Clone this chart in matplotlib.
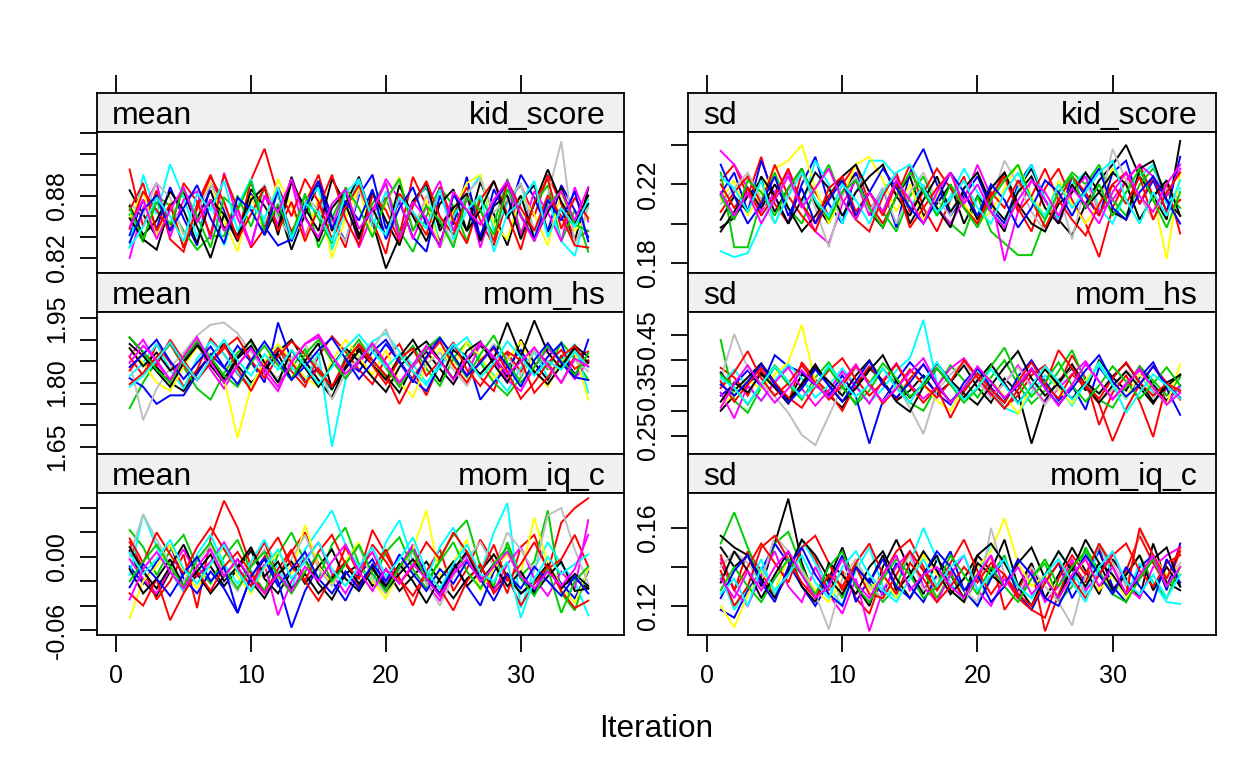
import matplotlib
matplotlib.use("Agg")
import matplotlib.pyplot as plt

# ---------------- data (values read/estimated from the picture) ----------------
iterations = list(range(1, 36))
chain_colors = ["#000000", "#FF0000", "#00CD00", "#0000FF", "#00FFFF", "#FF00FF",
                "#FFFF00", "#BEBEBE", "#000000", "#FF0000", "#000000", "#FF0000",
                "#00CD00", "#0000FF", "#00FFFF", "#FF00FF"]

# mean of kid_score (x 0.001)
kid_mean = [
 [885,862,840,872,830,858,885,848,868,895,842,870,828,862,890,846,872,898,855,810,840,875,888,850,870,846,893,862,832,875,890,845,868,836,887],
 [905,850,885,838,826,872,900,866,840,895,925,880,845,872,900,856,830,884,862,878,842,898,870,836,862,888,856,832,876,890,860,900,872,838,846],
 [862,835,880,870,846,828,841,841,880,850,888,862,838,882,830,858,886,840,872,892,846,826,860,888,870,836,880,852,896,844,872,890,836,866,826],
 [842,876,848,888,858,832,892,866,840,882,850,832,838,870,894,860,836,880,900,848,874,840,826,880,852,898,838,886,860,900,878,846,890,866,840],
 [830,900,862,910,878,840,875,832,870,896,852,882,836,872,888,828,866,894,850,884,838,870,890,830,860,880,900,846,872,892,840,878,836,822,870],
 [820,868,892,840,876,884,838,902,858,832,880,852,894,840,874,850,886,830,862,896,876,838,870,894,846,880,830,872,892,842,884,864,836,888,855],
 [858,884,840,872,832,868,892,856,826,880,846,896,870,836,878,820,858,888,840,872,898,846,876,830,866,892,900,852,838,880,862,832,884,846,860],
 [872,862,892,878,842,866,890,870,836,876,890,858,840,880,866,854,836,884,862,874,894,846,880,858,834,882,896,864,876,892,846,880,932,832,868],
 [858,838,828,870,884,850,820,862,836,876,888,842,894,868,846,896,872,838,884,856,832,874,892,846,868,882,836,870,880,838,872,905,874,852,880],
 [848,884,866,846,892,874,842,900,868,830,848,888,860,896,874,838,868,890,856,824,882,864,842,888,856,834,876,894,862,828,874,896,848,878,858],
 [870,842,856,884,866,834,876,862,840,886,870,848,898,860,836,868,884,842,868,840,890,860,836,872,886,846,866,894,858,880,838,864,888,852,872],
 [866,892,846,872,830,868,898,874,838,862,888,846,874,836,868,900,858,832,880,866,836,870,894,860,842,878,866,836,894,868,846,880,860,832,830],
 [868,838,874,852,886,860,830,878,866,894,846,872,842,880,858,834,888,868,840,876,896,846,870,856,830,878,866,842,886,862,836,872,884,852,846],
 [835,866,880,846,868,890,858,834,878,866,842,886,836,868,894,848,874,856,886,838,868,888,852,832,880,866,842,872,894,860,838,876,856,884,836],
 [830,850,878,860,836,882,866,894,846,870,858,888,838,872,864,836,882,896,856,842,878,864,848,886,838,866,880,826,862,874,894,840,868,850,876],
 [850,876,838,866,888,854,876,846,866,832,880,864,896,858,840,872,886,848,866,892,838,874,858,830,884,866,852,876,894,860,836,868,884,856,888],
]

# mean of mom_hs (x 0.001)
hs_mean = [
 [1905,1870,1836,1800,1780,1826,1864,1890,1840,1800,1826,1872,1900,1850,1806,1765,1838,1880,1852,1816,1776,1840,1872,1832,1796,1850,1886,1856,1812,1900,1846,1806,1862,1820,1850],
 [1860,1816,1890,1846,1790,1830,1902,1866,1820,1786,1846,1882,1826,1790,1862,1908,1872,1830,1796,1858,1890,1826,1770,1846,1884,1860,1812,1780,1868,1826,1878,1846,1798,1862,1872],
 [1740,1800,1850,1890,1836,1786,1760,1822,1870,1896,1846,1800,1834,1878,1822,1782,1860,1900,1852,1810,1850,1886,1832,1792,1856,1894,1846,1800,1770,1812,1874,1830,1894,1856,1806],
 [1810,1790,1750,1770,1770,1820,1866,1834,1886,1848,1800,1940,1852,1806,1836,1784,1852,1826,1872,1900,1850,1806,1780,1842,1886,1860,1760,1800,1836,1876,1822,1860,1892,1808,1900],
 [1815,1846,1890,1830,1786,1856,1896,1866,1822,1792,1850,1886,1836,1800,1870,1650,1806,1858,1896,1915,1872,1842,1800,1836,1880,1906,1852,1818,1780,1834,1872,1812,1850,1890,1776],
 [1862,1900,1846,1806,1856,1892,1830,1786,1840,1880,1820,1780,1850,1890,1906,1856,1810,1846,1884,1838,1796,1836,1876,1904,1860,1818,1890,1852,1806,1780,1836,1880,1848,1808,1850],
 [1880,1846,1800,1780,1836,1884,1852,1808,1670,1790,1850,1890,1852,1812,1790,1850,1900,1860,1818,1876,1800,1766,1840,1880,1838,1894,1862,1810,1852,1896,1830,1790,1848,1872,1760],
 [1850,1712,1786,1834,1870,1910,1935,1940,1915,1870,1832,1810,1856,1890,1836,1760,1822,1856,1880,1925,1846,1802,1842,1870,1830,1792,1850,1890,1860,1816,1876,1836,1800,1852,1826],
 [1890,1862,1826,1790,1846,1886,1852,1808,1860,1900,1846,1800,1876,1834,1790,1840,1880,1850,1812,1778,1836,1872,1896,1852,1808,1874,1896,1842,1800,1860,1945,1870,1832,1886,1860],
 [1828,1870,1840,1900,1852,1806,1846,1888,1832,1780,1840,1880,1848,1800,1832,1790,1850,1890,1852,1816,1750,1812,1856,1896,1840,1800,1852,1880,1826,1762,1800,1846,1876,1832,1852],
 [1880,1838,1870,1828,1852,1896,1840,1800,1856,1886,1832,1866,1808,1850,1892,1786,1832,1874,1842,1806,1860,1900,1848,1802,1876,1850,1820,1856,1940,1862,1826,1796,1840,1880,1846],
 [1796,1822,1860,1892,1840,1806,1846,1880,1905,1852,1810,1860,1896,1866,1826,1790,1850,1888,1840,1796,1856,1880,1816,1850,1894,1830,1792,1840,1872,1852,1776,1812,1860,1886,1836],
 [1905,1872,1830,1800,1856,1896,1860,1816,1790,1846,1886,1840,1806,1866,1900,1850,1810,1852,1890,1834,1790,1840,1880,1906,1856,1812,1866,1910,1846,1800,1836,1886,1850,1818,1868],
 [1836,1866,1900,1850,1808,1846,1884,1836,1796,1852,1896,1850,1806,1838,1876,1904,1856,1808,1846,1890,1848,1800,1860,1904,1862,1816,1846,1884,1838,1790,1852,1892,1846,1812,1806],
 [1790,1816,1852,1894,1846,1806,1856,1900,1852,1816,1866,1830,1876,1840,1796,1836,1880,1912,1872,1836,1866,1826,1794,1848,1890,1856,1812,1846,1896,1860,1816,1850,1830,1872,1836],
 [1846,1886,1852,1806,1862,1906,1848,1800,1840,1880,1832,1790,1846,1890,1912,1862,1820,1850,1892,1846,1800,1842,1886,1850,1806,1856,1894,1860,1820,1848,1882,1840,1800,1856,1838],
]

# mean of mom_iq_c (x 0.001)
iq_mean = [
 [5,-20,-32,-12,-28,-15,-8,-24,-10,5,-18,-30,-12,-2,-22,-35,-14,-6,-24,-10,-28,-16,-4,-20,-34,-18,-8,-26,-14,-30,-22,-10,-24,-18,-26],
 [12,-10,-35,-20,2,-42,15,46,24,-8,12,-16,4,20,-6,-22,8,-14,22,2,-18,-40,-12,6,-28,-10,14,-4,-30,8,18,-12,28,40,48],
 [22,8,-15,5,18,-8,-22,0,14,-12,-28,2,20,-4,-18,10,24,-6,-20,4,16,-10,-26,0,18,30,-8,-24,12,-16,-4,38,-30,-44,-10],
 [-8,-22,-4,10,-18,-30,-12,-26,-46,-16,0,-20,-58,-28,-8,-20,-36,-14,-2,-24,-10,8,-16,-30,-6,-24,-40,-12,4,-18,-28,-8,-22,-34,-12],
 [-15,35,8,-12,-28,2,18,-6,-22,-4,14,-10,-26,6,22,38,10,-8,-20,12,30,-4,-18,8,24,-2,-14,20,44,-42,-10,12,-6,-20,-48],
 [-2,-18,-30,-10,6,-16,-4,12,-8,-24,-6,-48,-20,-2,12,-14,-30,-10,4,-20,-8,10,-22,-36,-12,2,-16,-28,-6,8,-18,-32,-12,-26,30],
 [-50,-20,-8,10,-12,-26,-6,8,-16,-30,-10,4,-14,26,-8,-22,-4,12,-20,-34,-12,6,38,-16,-4,14,-28,-10,2,-14,32,-6,-24,-38,-10],
 [0,35,14,-6,-20,-4,10,-14,-28,-8,6,-16,-2,18,-10,-24,-6,8,-18,-30,-12,4,-22,-40,-16,-2,12,-8,20,6,-12,34,40,6,-22],
 [8,-12,-26,-8,10,-14,-30,-16,-2,-20,-34,-14,-4,-22,-8,6,-18,-28,-10,-24,-6,-20,-38,-18,-4,-24,-12,2,-16,-30,-20,-6,-26,-14,-24],
 [-30,-40,-18,-52,-30,-12,-28,-8,4,-14,-30,-10,6,-20,-36,-16,-4,-24,-10,6,-18,-32,-12,-26,-44,-20,-6,-30,-16,-40,-22,-8,-28,-42,-36],
 [-10,-30,-18,-2,-24,-12,2,-20,-8,8,-16,-4,-26,-14,-30,-18,-6,-22,-8,-28,-14,-2,-18,-32,-10,4,-20,-6,-24,-12,-30,-16,-4,-28,-26],
 [15,-5,20,2,-14,8,24,6,-10,-24,0,16,-8,-20,4,18,-6,-18,10,-4,-22,-8,12,-2,20,4,-14,10,-20,-6,12,-10,-2,18,-8],
 [-20,-4,10,-8,-24,-2,12,-10,-26,-8,4,-16,-30,-12,2,-20,-6,10,-14,-28,-8,6,-20,-4,12,-12,-26,-6,8,-18,-32,-10,-46,-20,-8],
 [-25,-6,-18,-32,-14,0,-20,-8,-46,-16,-2,-24,-10,4,-18,-30,-12,-26,-6,-20,2,-14,-28,-10,-22,-4,-18,-36,-14,-26,-8,-20,-32,-16,-30],
 [3,-14,-2,14,-10,-22,-6,10,-12,-28,-8,6,-18,-4,12,-10,-24,-8,8,-16,-2,16,-12,-26,-6,10,-14,-20,-4,-50,-18,0,-14,-6,2],
 [-35,-10,4,-12,-26,-8,6,-16,-2,-18,-30,-14,-28,-8,-20,-4,10,-12,-28,-10,-22,-6,-18,-32,-14,-2,-20,-8,4,-16,-26,-12,-24,-10,18],
]

# sd of kid_score (x 0.001)
kid_sd = [
 [198,203,214,222,206,218,228,210,200,216,226,206,198,214,224,204,210,220,200,214,206,196,218,228,212,202,194,210,222,230,240,224,214,202,242],
 [222,230,214,234,210,200,226,216,204,220,230,210,200,214,230,208,196,212,224,202,214,226,208,196,218,228,212,200,183,208,222,230,214,220,195],
 [226,188,188,212,226,208,200,218,230,212,202,216,206,196,214,224,208,200,194,214,196,190,184,184,202,216,226,220,230,212,204,220,228,216,208],
 [215,226,206,232,214,200,220,234,210,200,226,206,218,198,226,238,220,204,214,224,208,200,220,230,212,202,224,214,204,226,232,210,222,206,234],
 [186,183,185,200,214,226,208,232,220,200,216,232,232,224,208,220,204,214,228,216,206,198,218,230,212,202,220,226,208,200,216,224,230,210,218],
 [237,230,218,206,216,226,210,196,190,210,222,204,216,224,206,218,208,200,212,230,214,181,206,222,212,200,216,224,206,212,222,230,224,214,228],
 [212,222,204,216,228,232,240,218,200,214,230,234,222,206,220,202,214,226,210,200,206,218,230,214,204,222,210,200,210,228,220,202,214,182,226],
 [210,218,226,212,200,216,226,208,188,214,224,206,218,200,216,226,212,204,218,226,212,232,220,206,196,216,192,220,208,238,222,214,202,218,212],
 [196,206,218,208,220,208,196,204,214,224,230,216,206,222,200,212,224,206,216,202,218,226,210,200,196,210,216,226,216,206,202,228,232,212,204],
 [206,216,224,210,230,214,204,196,214,222,202,196,214,226,206,216,228,218,208,200,214,224,206,214,228,212,202,194,210,220,226,210,224,206,212],
 [202,214,206,224,214,200,212,226,218,204,216,224,230,214,204,218,208,198,218,226,210,202,216,224,208,200,220,208,216,226,220,202,214,222,204],
 [220,208,218,204,214,228,210,200,218,224,206,216,204,220,198,208,218,226,208,200,216,208,222,212,198,212,224,216,204,220,210,224,202,216,226],
 [214,202,222,216,204,218,228,212,202,216,222,208,198,214,226,216,204,220,208,198,212,222,230,212,202,216,224,208,220,204,216,228,212,198,216],
 [230,214,200,210,224,204,218,200,212,222,204,216,228,218,208,200,212,226,216,204,220,212,198,208,222,216,204,218,228,208,202,216,224,212,200],
 [224,218,206,222,200,214,226,212,204,220,212,200,216,226,230,218,206,212,222,208,200,216,226,212,204,220,208,216,226,232,212,200,216,204,222],
 [216,204,216,200,212,224,208,218,228,212,202,216,206,222,212,200,216,226,210,220,206,198,212,222,216,204,218,210,200,216,226,214,206,220,230],
]

# sd of mom_hs (x 0.001)
hs_sd = [
 [300,330,356,372,346,318,372,356,330,306,350,384,360,320,340,370,334,356,390,346,316,364,336,235,320,360,384,340,400,366,340,388,352,320,350],
 [385,366,330,380,346,316,396,362,336,300,352,388,356,322,364,392,350,316,342,382,344,306,330,370,390,350,410,364,272,336,370,318,248,354,336],
 [440,320,296,346,386,352,322,366,396,350,312,340,384,352,316,300,348,390,360,326,366,400,352,314,340,378,420,358,322,306,350,388,360,330,366],
 [330,352,380,348,410,388,376,350,330,370,328,235,320,360,396,366,334,312,356,386,346,316,368,400,358,320,350,302,386,352,326,366,396,344,292],
 [350,382,346,320,360,392,364,326,350,384,352,316,344,380,404,480,354,316,346,378,338,306,294,336,370,346,310,356,390,350,324,372,336,316,346],
 [336,285,350,320,356,386,344,310,340,378,348,314,360,394,352,324,348,384,404,366,330,354,390,350,316,344,372,398,358,322,354,384,342,316,350],
 [310,332,360,344,372,396,470,358,324,352,386,354,314,344,380,352,320,300,348,386,360,330,294,350,384,342,314,360,396,354,326,372,344,312,392],
 [362,452,384,354,328,296,252,232,290,348,384,352,318,350,306,254,340,372,396,358,324,356,386,346,312,348,390,354,318,342,380,356,326,354,340],
 [376,340,366,394,356,322,350,386,358,330,370,400,356,318,298,348,384,352,326,360,392,354,316,348,382,350,324,356,334,368,394,356,318,348,372],
 [358,318,352,386,356,326,306,348,380,404,362,330,356,392,348,316,346,286,338,374,342,316,358,396,352,324,372,346,314,240,304,352,388,356,322],
 [318,356,336,374,346,314,354,392,350,318,344,380,410,358,326,354,394,360,334,312,350,386,418,364,330,354,392,350,316,350,378,346,314,356,370],
 [345,376,418,364,330,354,390,356,322,350,388,356,314,344,382,352,326,358,400,366,334,304,342,380,352,420,384,350,324,364,396,356,330,354,340],
 [372,346,312,352,390,358,326,352,384,346,316,354,394,364,328,350,384,352,316,344,388,425,366,328,358,396,350,318,350,388,358,324,354,386,350],
 [352,330,358,392,352,316,344,382,350,318,358,398,352,326,356,392,350,318,346,384,358,324,350,384,346,312,344,380,410,358,328,352,388,350,326],
 [366,344,314,352,388,358,326,350,390,356,328,352,384,344,316,358,396,356,322,346,382,350,314,350,388,358,322,352,396,352,296,336,372,350,324],
 [306,354,390,350,316,344,380,352,326,358,392,350,318,344,376,404,354,316,346,388,356,326,352,384,344,310,352,392,358,324,352,380,346,312,336],
]

# sd of mom_iq_c (x 0.001)
iq_sd = [
 [150,140,146,130,152,175,142,124,134,150,130,120,140,154,138,126,144,136,124,146,138,154,130,142,124,136,150,138,126,144,134,124,152,132,128],
 [142,128,148,138,124,136,154,144,128,138,124,116,136,148,154,140,128,138,122,134,146,118,128,140,107,126,142,132,150,128,138,156,142,130,148],
 [152,168,150,134,152,158,140,126,136,124,142,132,122,130,148,138,124,136,128,120,136,146,124,134,142,122,130,150,138,126,136,146,132,124,140],
 [118,114,128,138,152,142,130,120,132,146,122,134,126,142,130,122,136,148,128,120,134,144,126,118,132,142,124,136,148,130,122,140,146,128,152],
 [136,118,130,144,126,136,154,142,130,120,138,150,130,124,142,160,144,132,122,136,152,142,130,124,136,148,138,126,152,136,124,142,132,122,121],
 [144,128,120,136,148,130,122,140,126,116,134,107,128,140,148,130,122,136,146,128,120,134,124,138,122,130,144,128,136,148,130,124,140,146,150],
 [120,109,126,138,128,144,138,128,122,134,144,128,136,124,134,146,136,128,122,140,148,165,142,130,136,124,134,144,128,136,124,134,146,136,140],
 [140,148,142,132,156,148,138,126,108,134,144,130,124,136,146,128,134,140,128,122,160,136,126,140,130,122,110,136,152,142,130,158,146,134,142],
 [156,150,146,134,124,138,154,146,134,126,140,132,146,128,136,148,138,126,134,146,152,142,130,120,136,148,138,154,142,128,136,146,128,140,130],
 [146,128,140,152,142,132,150,156,142,128,140,126,124,136,148,138,128,142,154,138,126,136,124,118,114,134,146,136,152,140,126,160,146,134,150],
 [132,148,138,124,136,148,130,122,142,136,126,140,148,134,124,136,146,128,122,142,136,130,142,150,134,124,140,130,142,136,126,134,144,150,130],
 [138,120,130,150,156,144,132,124,136,130,142,152,136,126,142,134,122,130,140,132,142,136,126,120,132,142,134,124,136,146,152,138,130,142,146],
 [128,140,130,122,134,144,136,126,140,148,130,122,134,144,136,124,130,146,136,126,140,130,122,134,144,130,140,148,136,126,122,134,144,130,136],
 [124,138,146,132,122,140,150,136,126,120,140,132,144,130,124,136,148,140,128,136,122,130,144,136,124,120,134,146,136,126,140,130,122,144,132],
 [126,134,120,140,128,136,146,132,124,140,148,136,128,122,134,144,130,140,146,128,136,144,130,124,136,144,132,122,140,148,132,126,136,124,136],
 [134,124,138,128,140,148,136,124,130,144,132,124,136,146,128,136,140,130,124,136,146,130,140,126,134,124,136,144,130,140,126,136,146,130,140],
]

x_ticks = [0, 10, 20, 30]
x_labels = ["0", "10", "20", "30"]

# panel: (column, row, stat, variable, data, scale, ylim, yticks, yticklabels)
panels = [
    (0, 0, "mean", "kid_score", kid_mean, 0.001, (0.8056, 0.941),
     [0.82, 0.84, 0.86, 0.88, 0.90, 0.92, 0.94], ["0.82", "", "", "0.88", "", "", ""]),
    (0, 1, "mean", "mom_hs", hs_mean, 0.001, (1.633, 1.9647),
     [1.65, 1.70, 1.75, 1.80, 1.85, 1.90, 1.95], ["1.65", "", "", "1.80", "", "", "1.95"]),
    (0, 2, "mean", "mom_iq_c", iq_mean, 0.001, (-0.0641, 0.0523),
     [-0.06, -0.04, -0.02, 0.0, 0.02, 0.04], ["-0.06", "", "", "0.00", "", ""]),
    (1, 0, "sd", "kid_score", kid_sd, 0.001, (0.1749, 0.2466),
     [0.18, 0.20, 0.22, 0.24], ["0.18", "", "0.22", ""]),
    (1, 1, "sd", "mom_hs", hs_sd, 0.001, (0.2144, 0.4955),
     [0.25, 0.30, 0.35, 0.40, 0.45], ["0.25", "", "0.35", "", "0.45"]),
    (1, 2, "sd", "mom_iq_c", iq_sd, 0.001, (0.1051, 0.1779),
     [0.12, 0.14, 0.16], ["0.12", "", "0.16"]),
]

# ---------------- figure ----------------
plt.rcParams["font.family"] = ["Liberation Sans", "DejaVu Sans"]
W, H = 1248, 771
DPI = 100
fig = plt.figure(figsize=(W / DPI, H / DPI), dpi=DPI)
fig.patch.set_facecolor("white")

def px2pt(p):
    return p * 72.0 / DPI

def add_px_axes(x0, x1, y0, y1):
    return fig.add_axes([x0 / W, 1 - y1 / H, (x1 - x0) / W, (y1 - y0) / H])

col_x = [(97, 624), (688, 1216)]
strip_y = [(93, 132), (273, 312), (454, 493)]
panel_y = [(132, 273), (312, 454), (493, 635)]
xlim = (-1.42, 37.65)
LW = 1.3
tick_fs = px2pt(25)
strip_fs = px2pt(32)
tick_len = px2pt(17)

for (c, r, stat, var, data, scale, ylim, yt, ytl) in panels:
    x0, x1 = col_x[c]
    # strip
    sy0, sy1 = strip_y[r]
    sax = add_px_axes(x0, x1, sy0, sy1)
    sax.set_facecolor("#F0F0F0")
    sax.set_xlim(*xlim)
    sax.set_ylim(0, 1)
    sax.set_yticks([])
    for s in sax.spines.values():
        s.set_linewidth(LW)
    if r == 0:
        sax.xaxis.tick_top()
        sax.set_xticks(x_ticks)
        sax.set_xticklabels([])
        sax.tick_params(axis="x", direction="out", length=px2pt(18), width=LW)
    else:
        sax.set_xticks([])
    sh = sy1 - sy0
    base = (sy1 - 8 - sy0) / sh
    sax.text(15 / (x1 - x0), 1 - base, stat, transform=sax.transAxes,
             ha="left", va="baseline", fontsize=strip_fs)
    sax.text(1 - 18 / (x1 - x0), 1 - base, var, transform=sax.transAxes,
             ha="right", va="baseline", fontsize=strip_fs)

    # panel
    py0, py1 = panel_y[r]
    ax = add_px_axes(x0, x1, py0, py1)
    for k, chain in enumerate(data):
        vals = [v * scale for v in chain]
        ax.plot(iterations, vals, color=chain_colors[k % len(chain_colors)],
                lw=1.4, solid_joinstyle="miter")
    ax.set_xlim(*xlim)
    ax.set_ylim(*ylim)
    for s in ax.spines.values():
        s.set_linewidth(LW)
    ax.set_yticks(yt)
    ax.set_yticklabels(ytl, rotation=90, va="center", fontsize=tick_fs)
    ax.tick_params(axis="y", direction="out", length=tick_len, width=LW, pad=px2pt(11))
    if r == 2:
        ax.set_xticks(x_ticks)
        ax.set_xticklabels(x_labels, fontsize=tick_fs)
        ax.tick_params(axis="x", direction="out", length=tick_len, width=LW, pad=px2pt(12))
    else:
        ax.set_xticks([])

fig.text(656 / W, 1 - 729 / H, "Iteration", ha="center", va="center", fontsize=px2pt(31.5))

fig.savefig("out.png", dpi=DPI)
